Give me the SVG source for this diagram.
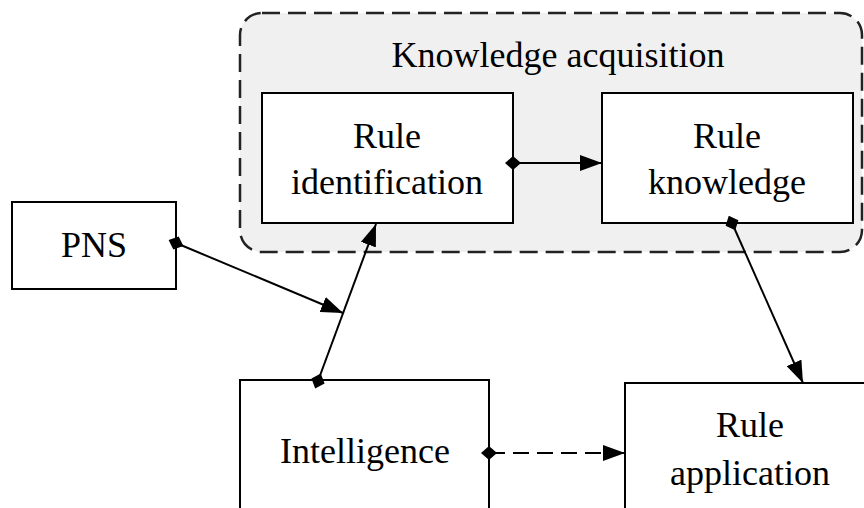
<svg xmlns="http://www.w3.org/2000/svg" width="864" height="508" viewBox="0 0 864 508">
<style>
.box{fill:#fff;stroke:#000;stroke-width:2}
.t{font-family:"Liberation Serif","Times New Roman",serif;font-size:36px;fill:#000;text-anchor:middle}
.c{stroke:#000;stroke-width:2;fill:none;marker-start:url(#dia);marker-end:url(#arr)}
</style>
<defs>
<marker id="dia" markerUnits="userSpaceOnUse" viewBox="-8 -8 16 16" refX="0" refY="0" markerWidth="16" markerHeight="16" orient="auto">
<path d="M-8 0L0-7L8 0L0 7Z" fill="#000"/>
</marker>
<marker id="arr" markerUnits="userSpaceOnUse" viewBox="0 0 22 16" refX="22" refY="8" markerWidth="22" markerHeight="16" orient="auto">
<path d="M0 0L22 8L0 16Z" fill="#000"/>
</marker>
</defs>
<g id="knowledge-acquisition">
<rect x="240" y="13" width="622" height="239" rx="22" fill="#f0f0f0" stroke="#222" stroke-width="2.5" stroke-dasharray="18,8"/>
<text class="t" x="558" y="67">Knowledge acquisition</text>
</g>
<g id="rule-identification">
<rect class="box" x="262" y="93" width="251" height="130"/>
<text class="t" x="387" y="148">Rule</text>
<text class="t" x="387" y="194">identification</text>
</g>
<g id="rule-knowledge">
<rect class="box" x="602" y="93" width="251" height="130"/>
<text class="t" x="727" y="148">Rule</text>
<text class="t" x="727" y="194">knowledge</text>
</g>
<g id="pns">
<rect class="box" x="12" y="202" width="164" height="87"/>
<text class="t" x="94" y="257">PNS</text>
</g>
<g id="intelligence">
<rect class="box" x="240" y="380" width="249" height="140"/>
<text class="t" x="365" y="463">Intelligence</text>
</g>
<g id="rule-application">
<rect class="box" x="625" y="383" width="250" height="140"/>
<text class="t" x="750" y="437">Rule</text>
<text class="t" x="750" y="485">application</text>
</g>
<g id="connectors">
<line class="c" x1="513" y1="163" x2="602" y2="163"/>
<line class="c" x1="176" y1="243" x2="343" y2="313"/>
<line class="c" x1="318" y1="381" x2="376" y2="224"/>
<line class="c" x1="732" y1="223" x2="803" y2="383"/>
<line class="c" x1="489" y1="453" x2="625" y2="453" stroke-dasharray="16,8"/>
</g>
</svg>
